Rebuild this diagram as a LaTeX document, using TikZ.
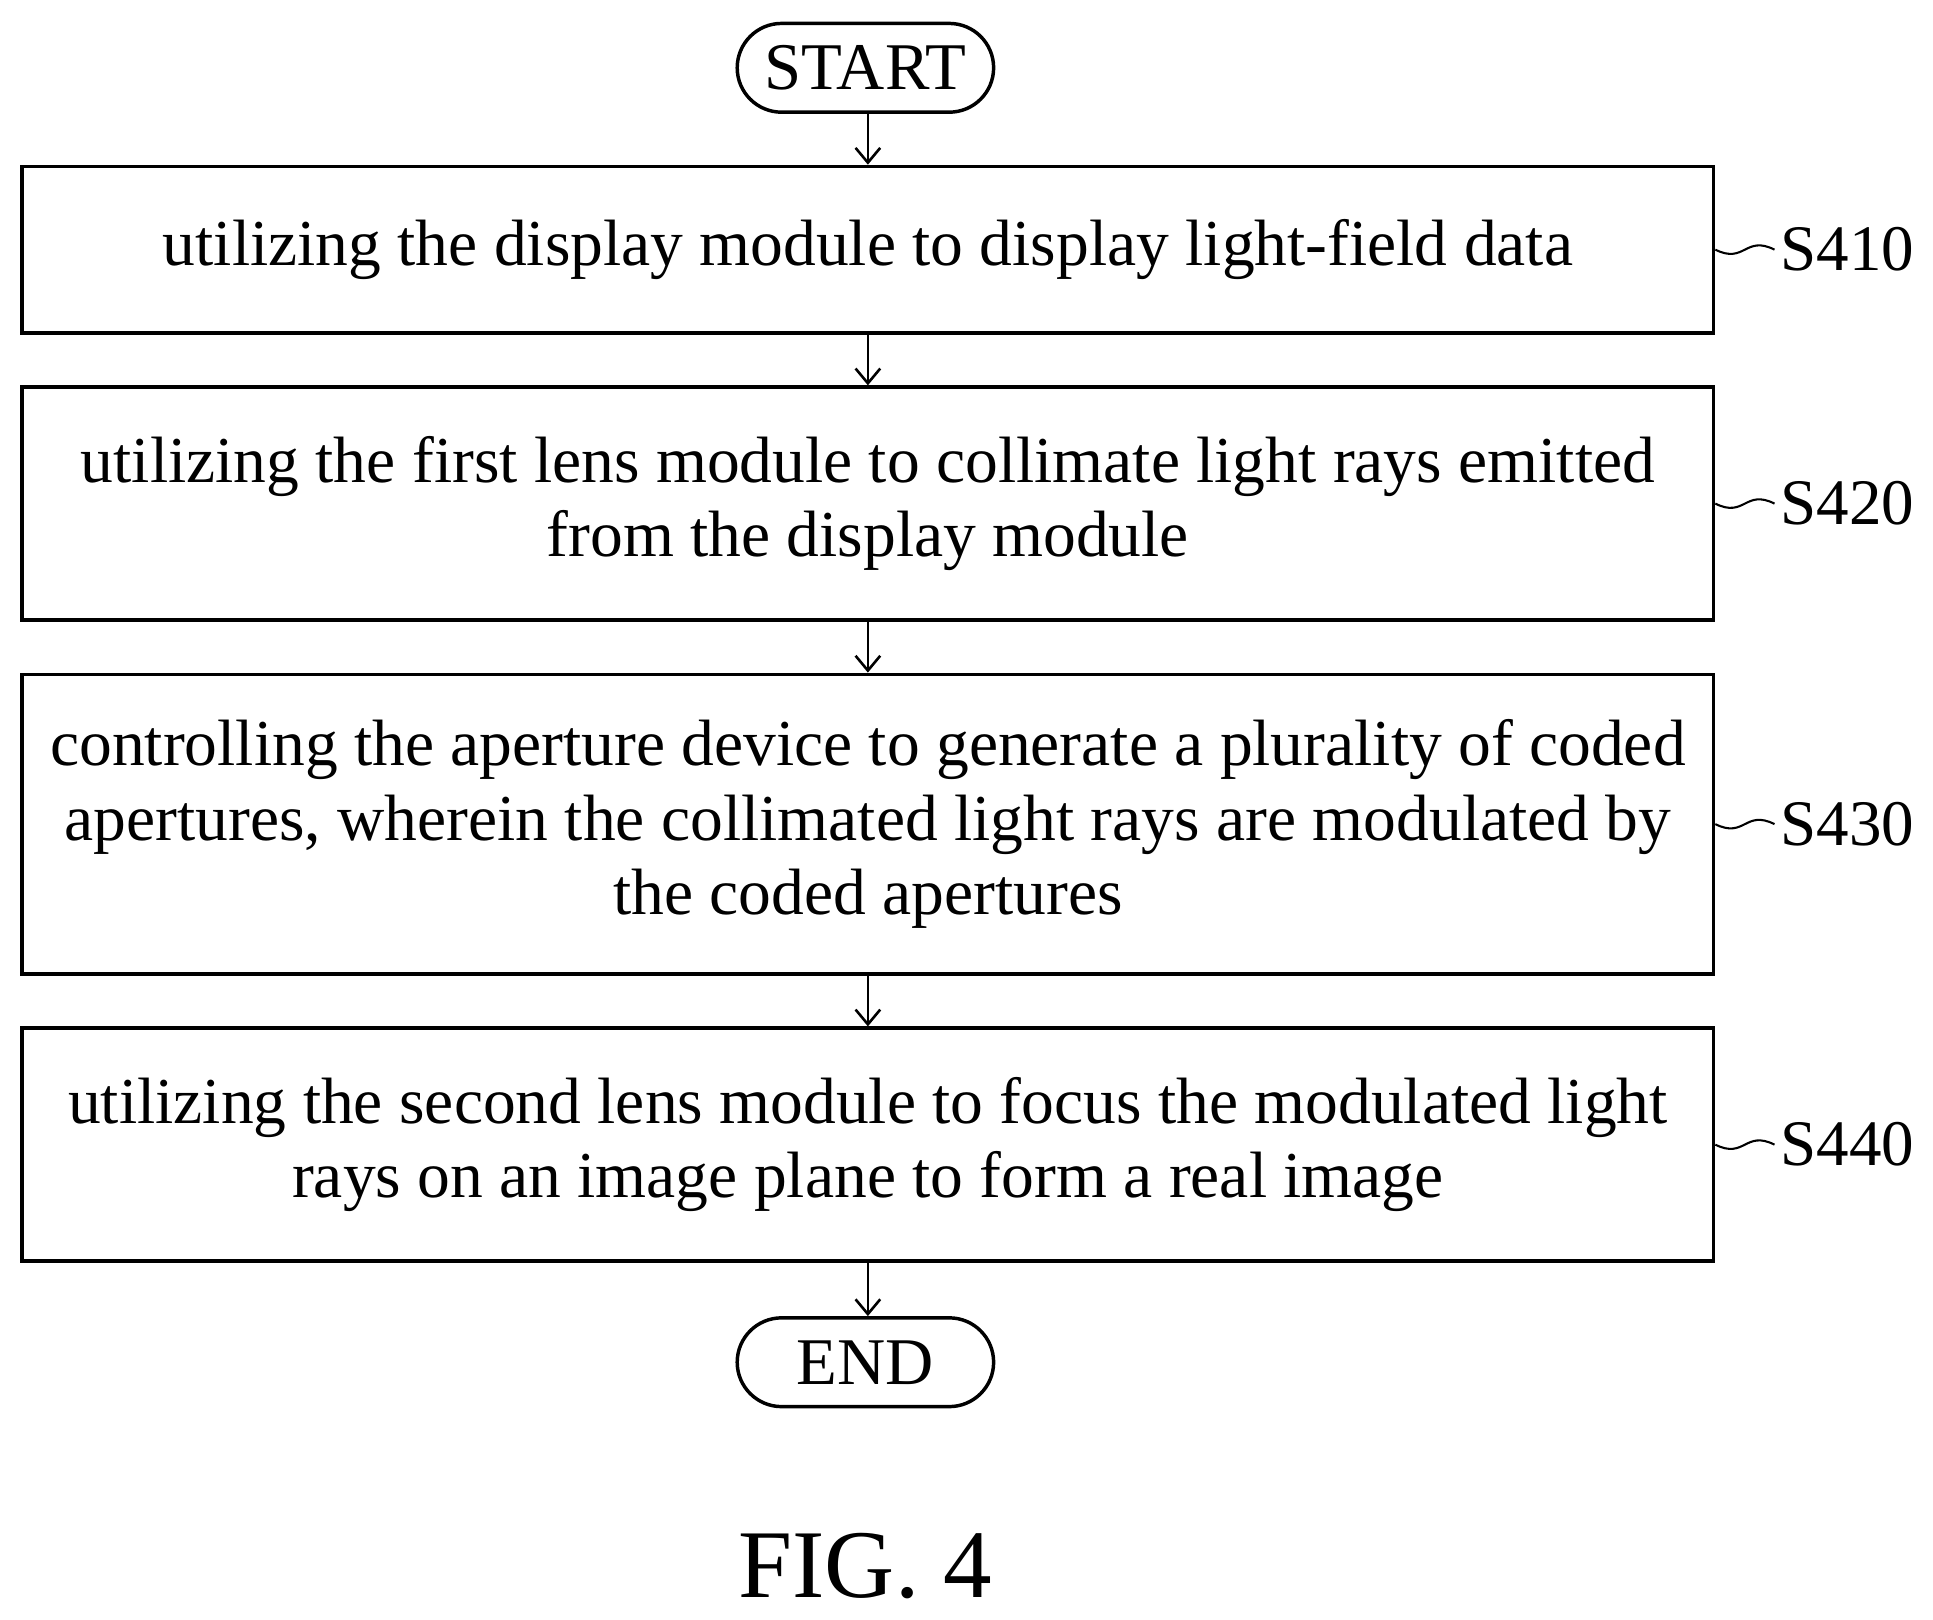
\documentclass[tikz,border=0pt]{standalone}
\usepackage{fontspec}
\setmainfont{Liberation Serif}
\usetikzlibrary{arrows.meta}
\begin{document}
\begin{tikzpicture}[x=0.25mm,y=-0.25mm,
  box/.style={draw,line width=2pt,minimum width=343mm,align=center,font=\fontsize{37.8}{43}\selectfont},
  term/.style={draw,line width=2pt,rounded corners=9mm,minimum width=52mm,minimum height=18mm,inner sep=0pt,font=\fontsize{38.5}{43}\selectfont},
  arr/.style={line width=1.5pt,-{Straight Barb[length=3mm,width=5mm]}},
  lab/.style={anchor=west,font=\fontsize{37.5}{43}\selectfont},
  sq/.style={line width=1.2pt}]
\useasboundingbox (0,0) rectangle (1568,1314);
\node[term] (start) at (702,55) {START};
\node[box,minimum height=33.75mm] (s1) at (704,202.5) {utilizing the display module to display light-field data};
\node[box,minimum height=47.25mm] (s2) at (704,408.5) {utilizing the first lens module to collimate light rays emitted\\from the display module};
\node[box,minimum height=60.75mm] (s3) at (704,668.5) {controlling the aperture device to generate a plurality of coded\\apertures, wherein the collimated light rays are modulated by\\the coded apertures};
\node[box,minimum height=47.25mm] (s4) at (704,928.5) {utilizing the second lens module to focus the modulated light\\rays on an image plane to form a real image};
\node[term] (end) at (702,1105) {END};
\foreach \a/\b in {start/s1,s1/s2,s2/s3,s3/s4,s4/end}
  \draw[arr] (\a.south -| s1.north) -- (\b.north -| s1.north);
\foreach \n/\t in {s1/S410,s2/S420,s3/S430,s4/S440}{
  \node[lab] (l\n) at ([xshift=12mm]\n.east) {\t};
  \draw[sq] (\n.east) .. controls +(6mm,-3mm) and +(-6mm,3mm) .. (l\n.west);
}
\node[font=\fontsize{56}{64}\selectfont] (fig) at (702,1270) {FIG. 4};
\end{tikzpicture}
\end{document}
